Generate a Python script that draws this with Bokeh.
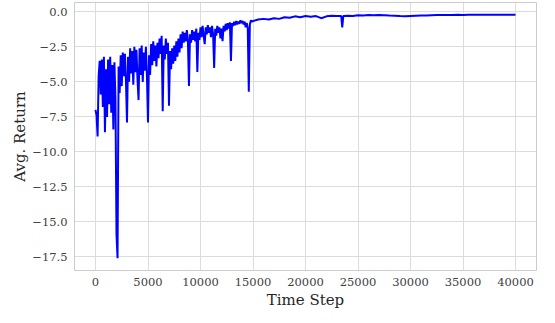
from bokeh.plotting import figure
from bokeh.models import Range1d, FixedTicker, CustomJSTickFormatter
from bokeh.embed import file_html
from bokeh.resources import INLINE

# ---- data ----
early_steps = list(range(0, 15000, 100))
early_returns = [
    -7.0, -7.4, -8.9, -4.6, -3.5, -5.9, -3.4, -6.8, -3.2, -8.6,
    -4.1, -7.5, -3.4, -6.6, -3.2, -7.2, -3.8, -8.4, -3.6, -6.2,
    -15.9, -17.6, -3.9, -5.8, -3.1, -5.3, -2.9, -4.6, -3.0, -4.9,
    -7.9, -3.2, -5.0, -2.6, -4.4, -2.8, -5.2, -2.5, -4.3, -2.7,
    -4.8, -6.3, -2.6, -4.5, -2.4, -5.0, -2.9, -4.2, -2.5, -4.6,
    -7.9, -3.1, -4.5, -2.3, -3.8, -2.1, -3.5, -2.4, -3.9, -2.2,
    -3.3, -1.9, -3.0, -1.7, -7.1, -2.4, -3.4, -1.9, -3.0, -2.2,
    -6.7, -2.8, -4.1, -2.6, -3.7, -2.4, -3.5, -2.1, -3.2, -1.9,
    -2.9, -1.6, -2.6, -1.4, -2.2, -1.5, -2.1, -1.3, -2.0, -5.3,
    -1.6, -2.2, -1.3, -2.0, -1.4, -2.1, -1.2, -4.3, -1.5, -2.0,
    -1.1, -1.8, -1.0, -1.7, -2.3, -1.1, -1.6, -0.95, -1.5, -1.1,
    -1.8, -1.0, -1.6, -4.0, -1.2, -1.7, -1.0, -1.5, -1.1, -1.9,
    -1.2, -2.1, -1.0, -1.4, -0.85, -1.3, -0.8, -1.2, -0.75, -3.5,
    -0.8, -1.0, -0.7, -0.95, -0.65, -0.9, -0.7, -0.85, -0.6, -0.8,
    -0.65, -0.9, -0.7, -1.1, -0.8, -1.15, -5.7, -0.9, -0.6, -0.7,
]
late_steps = [
    15000, 15500, 16000, 16500, 17000, 17500, 18000, 18500, 19000, 19500,
    20000, 20500, 21000, 21500, 22000, 22500, 23000, 23400, 23500, 23600,
    24000, 24500, 25000, 25500, 26000, 26500, 27000, 27500, 28000, 28500,
    29000, 29500, 30000, 30500, 31000, 31500, 32000, 32500, 33000, 33500,
    34000, 34500, 35000, 35500, 36000, 36500, 37000, 37500, 38000, 38500,
    39000, 39500, 40000,
]
late_returns = [
    -0.65, -0.55, -0.5, -0.55, -0.45, -0.5, -0.38, -0.42, -0.32, -0.38,
    -0.3, -0.34, -0.3, -0.45, -0.32, -0.28, -0.3, -0.3, -1.1, -0.29,
    -0.28, -0.3, -0.24, -0.25, -0.23, -0.24, -0.23, -0.24, -0.26, -0.27,
    -0.3, -0.31, -0.29, -0.27, -0.26, -0.25, -0.24, -0.23, -0.23, -0.22,
    -0.22, -0.21, -0.22, -0.21, -0.2, -0.2, -0.21, -0.2, -0.2, -0.21,
    -0.2, -0.2, -0.2,
]
x_ticks = [0, 5000, 10000, 15000, 20000, 25000, 30000, 35000, 40000]
y_ticks = [0.0, -2.5, -5.0, -7.5, -10.0, -12.5, -15.0, -17.5]

steps = early_steps + late_steps
returns = early_returns + late_returns

FONT = "DejaVu Serif"
GRID = "#dcdcdc"

p = figure(frame_width=462, frame_height=268, output_backend="svg",
           toolbar_location=None,
           x_range=Range1d(-2000, 42000), y_range=Range1d(-18.47, 0.67),
           min_border_left=74, min_border_right=3, min_border_top=2,
           min_border_bottom=0)

p.line(steps, returns, line_color="#0000ff", line_width=2)

p.background_fill_color = "white"
p.border_fill_color = "white"
p.outline_line_color = "#cccccc"
p.outline_line_width = 1

for g in (p.xgrid, p.ygrid):
    g.grid_line_color = GRID
    g.grid_line_width = 1

p.xaxis.ticker = FixedTicker(ticks=x_ticks)
p.yaxis.ticker = FixedTicker(ticks=y_ticks)
p.xaxis.formatter = CustomJSTickFormatter(code="return tick.toFixed(0).replace('-', '\u2212');")
p.yaxis.formatter = CustomJSTickFormatter(code="return tick.toFixed(1).replace('-', '\u2212');")

for ax in (p.xaxis, p.yaxis):
    ax.axis_line_color = None
    ax.major_tick_line_color = None
    ax.minor_tick_line_color = None
    ax.major_tick_out = 0
    ax.major_tick_in = 0
    ax.minor_tick_out = 0
    ax.minor_tick_in = 0
    ax.major_label_text_font = FONT
    ax.major_label_text_font_size = "11.5px"
    ax.major_label_text_color = "#3d3d3d"
    ax.major_label_standoff = 7
    ax.axis_label_text_font = FONT
    ax.axis_label_text_font_size = "15px"
    ax.axis_label_text_font_style = "normal"
    ax.axis_label_text_color = "#262626"

p.xaxis.axis_label_standoff = 2
p.yaxis.axis_label_standoff = 0
p.xaxis.axis_label = "Time Step"
p.yaxis.axis_label = "Avg. Return"

open("out.html", "w").write(file_html(p, INLINE))
